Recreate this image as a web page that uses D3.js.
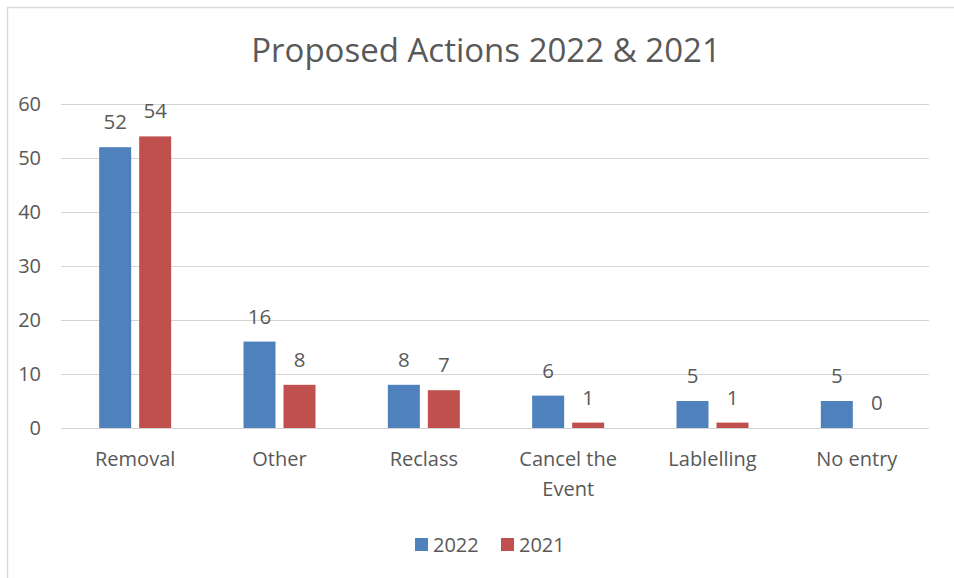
<!DOCTYPE html>
<html>
<head>
<meta charset="utf-8">
<script src="https://cdn.jsdelivr.net/npm/d3@7"></script>
<style>
  html, body { margin: 0; padding: 0; background: #fff; }
  svg { display: block; }
  text { font-family: "Open Sans", "Noto Sans", sans-serif; fill: #595959; }
</style>
</head>
<body>
<svg id="chart" width="954" height="578"></svg>
<script>
// Proposed actions by category, two years side by side
const categories = ["Removal", "Other", "Reclass", "Cancel the Event", "Lablelling", "No entry"];
const categoryLines = [["Removal"], ["Other"], ["Reclass"], ["Cancel the", "Event"], ["Lablelling"], ["No entry"]];
const seriesNames = ["2022", "2021"];
const values2022 = [52, 16, 8, 6, 5, 5];
const values2021 = [54, 8, 7, 1, 1, 0];
const yTicks = [0, 10, 20, 30, 40, 50, 60];
const colors = ["#4f81bd", "#c0504d"];

const svg = d3.select("#chart");
const W = 954, H = 578;
const plot = { left: 61, right: 929, top: 104, bottom: 428 };

// outer frame (only left/top edges visible)
svg.append("rect")
  .attr("x", 7.5).attr("y", 7.5)
  .attr("width", W + 20).attr("height", H + 20)
  .attr("fill", "#fff").attr("stroke", "#d9d9d9").attr("stroke-width", 1.5);

const x = d3.scaleBand().domain(categories).range([63, 929]).paddingInner(0).paddingOuter(0);
const y = d3.scaleLinear().domain([0, 60]).range([plot.bottom, plot.top]);

// gridlines
svg.append("g").selectAll("line").data(yTicks).join("line")
  .attr("x1", plot.left).attr("x2", plot.right)
  .attr("y1", d => Math.round(y(d)) + 0.5).attr("y2", d => Math.round(y(d)) + 0.5)
  .attr("stroke", "#d4d4d4").attr("stroke-width", 1);

// y tick labels
svg.append("g").selectAll("text").data(yTicks).join("text")
  .attr("x", 41).attr("y", d => y(d))
  .attr("dy", "0.35em").attr("text-anchor", "end")
  .style("font-size", "20px").text(d => d);

// bars
const barW = 32, gap = 8;
const series = [values2022, values2021];
const inner = d3.scaleBand().domain(seriesNames).range([0, barW * 2 + gap]).paddingInner(gap / (barW + gap)).paddingOuter(0);
const groupOffset = (x.bandwidth() - (barW * 2 + gap)) / 2;

series.forEach((vals, si) => {
  const g = svg.append("g");
  g.selectAll("rect").data(vals).join("rect")
    .attr("x", (d, i) => x(categories[i]) + groupOffset + inner(seriesNames[si]))
    .attr("y", d => y(d))
    .attr("width", inner.bandwidth())
    .attr("height", d => y(0) - y(d))
    .attr("fill", colors[si]);
  g.selectAll("text").data(vals).join("text")
    .attr("x", (d, i) => x(categories[i]) + groupOffset + inner(seriesNames[si]) + inner.bandwidth() / 2)
    .attr("y", d => y(d) - 18)
    .attr("text-anchor", "middle")
    .style("font-size", "20.5px")
    .text(d => d);
});

// category labels
svg.append("g").selectAll("text").data(categoryLines).join("text")
  .attr("text-anchor", "middle")
  .attr("x", (d, i) => x(categories[i]) + x.bandwidth() / 2)
  .attr("y", 466)
  .style("font-size", "20px")
  .each(function(lines) {
    d3.select(this).selectAll("tspan").data(lines).join("tspan")
      .attr("x", d3.select(this).attr("x"))
      .attr("dy", (d, j) => j === 0 ? 0 : 30)
      .text(d => d);
  });

// title
svg.append("text")
  .attr("x", 486).attr("y", 62).attr("text-anchor", "middle")
  .style("font-size", "33px")
  .text("Proposed Actions 2022 & 2021");

// legend
const legend = svg.append("g");
const legendX = [415, 501];
seriesNames.forEach((name, i) => {
  legend.append("rect").attr("x", legendX[i]).attr("y", 538).attr("width", 13).attr("height", 13).attr("fill", colors[i]);
  legend.append("text").attr("x", legendX[i] + 18).attr("y", 545).attr("dy", "0.35em")
    .style("font-size", "20px").text(name);
});
</script>
</body>
</html>
